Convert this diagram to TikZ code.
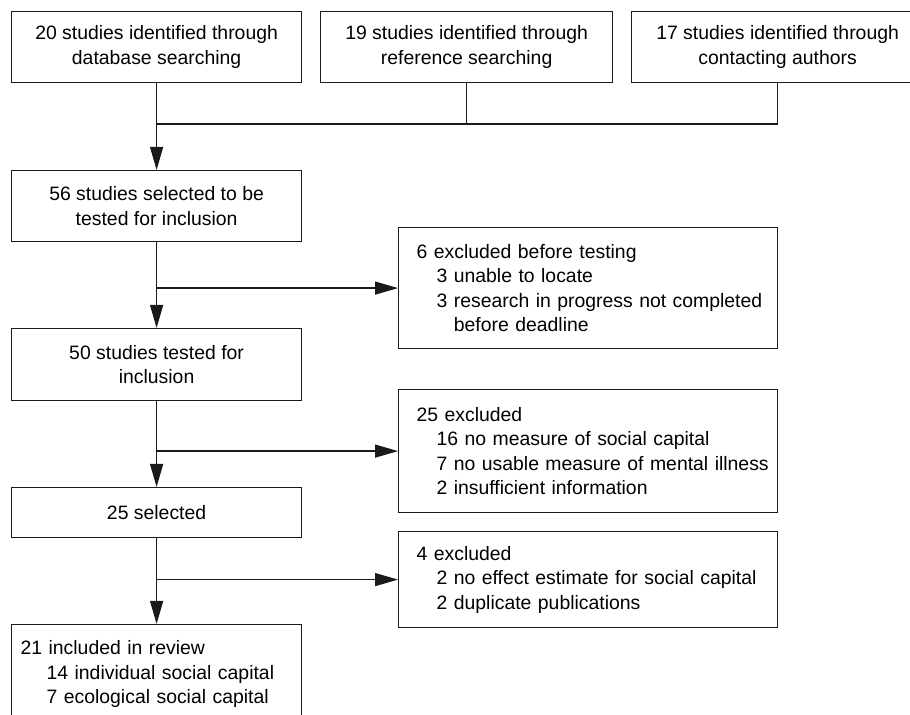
\documentclass[tikz,border=0pt]{standalone}
\usepackage{fontspec}
\setmainfont{Liberation Sans}
\usetikzlibrary{arrows.meta}
\definecolor{line-grey}{HTML}{1A1A1A}
\hfuzz=30pt
\newcommand{\exline}[2][10pt]{\\\hspace*{#1}\mbox{#2}}

\begin{document}
\begin{tikzpicture}[x=0.5pt, y=-0.5pt,
      every node/.style={font=\fontsize{9.7}{12.2}\selectfont},
      link/.style={draw=line-grey, line width=0.6pt},
      flow/.style={link, -{Triangle[length=11.5pt, width=6.5pt]}},
      box/.style={link, anchor=north west, align=center,
                  minimum width=145pt, minimum height=35.5pt, inner sep=0pt},
      listbox/.style={link, anchor=north west, align=left,
                  text width=171.5pt, inner xsep=9pt, inner ysep=0pt}]
    \useasboundingbox (0,0) rectangle (910,715);
    \clip (0,0) rectangle (910,715);
    % sources
    \node[box] (db) at (11,11) {20 studies identified through\\database searching};
    \node[box, minimum width=146pt] (ref) at (320,11)
          {19 studies identified through\\reference searching};
    \node[box, minimum width=146pt] (auth) at (631,11)
          {17 studies identified through\\contacting authors};
    % main column
    \node[box] (sel) at (11,170) {56 studies selected to be\\tested for inclusion};
    \node[box, minimum height=36pt] (tst) at (11,328) {50 studies tested for\\inclusion};
    \node[box, minimum height=25pt] (kept) at (11,487) {25 selected};
    \node[listbox, text width=136pt, inner xsep=4.5pt, inner ysep=8pt] (incl) at (11,624)
          {\mbox{21 included in review}\exline[13pt]{14 individual social capital}%
           \exline[13pt]{7 ecological social capital}};
    % exclusions
    \node[listbox, minimum height=60.5pt] (exA) at (398,227)
          {\mbox{6 excluded before testing}\exline{3 unable to locate}%
           \exline{3 research in progress not completed}%
           \exline{\hphantom{3}\ before deadline}};
    \node[listbox, minimum height=61.5pt] (exB) at (398,389)
          {\mbox{25 excluded}\exline{16 no measure of social capital}%
           \exline{7 no usable measure of mental illness}%
           \exline{2 insufficient information}};
    \node[listbox, minimum height=48pt] (exC) at (398,531)
          {\mbox{4 excluded}\exline{2 no effect estimate for social capital}%
           \exline{2 duplicate publications}};
    % connectors
    \coordinate (merge) at (db.south |- 0,124);
    \draw[link] (ref.south) -- (ref.south |- merge);
    \draw[link] (auth.south) |- (merge);
    \draw[flow] (db.south) -- (sel.north);
    \draw[flow] (sel.south) -- (tst.north);
    \draw[flow] (sel.south |- exA.west) -- (exA.west);
    \draw[flow] (tst.south) -- (kept.north);
    \draw[flow] (tst.south |- exB.west) -- (exB.west);
    \draw[flow] (kept.south) -- (incl.north);
    \draw[flow] (kept.south |- exC.west) -- (exC.west);
\end{tikzpicture}
\end{document}
